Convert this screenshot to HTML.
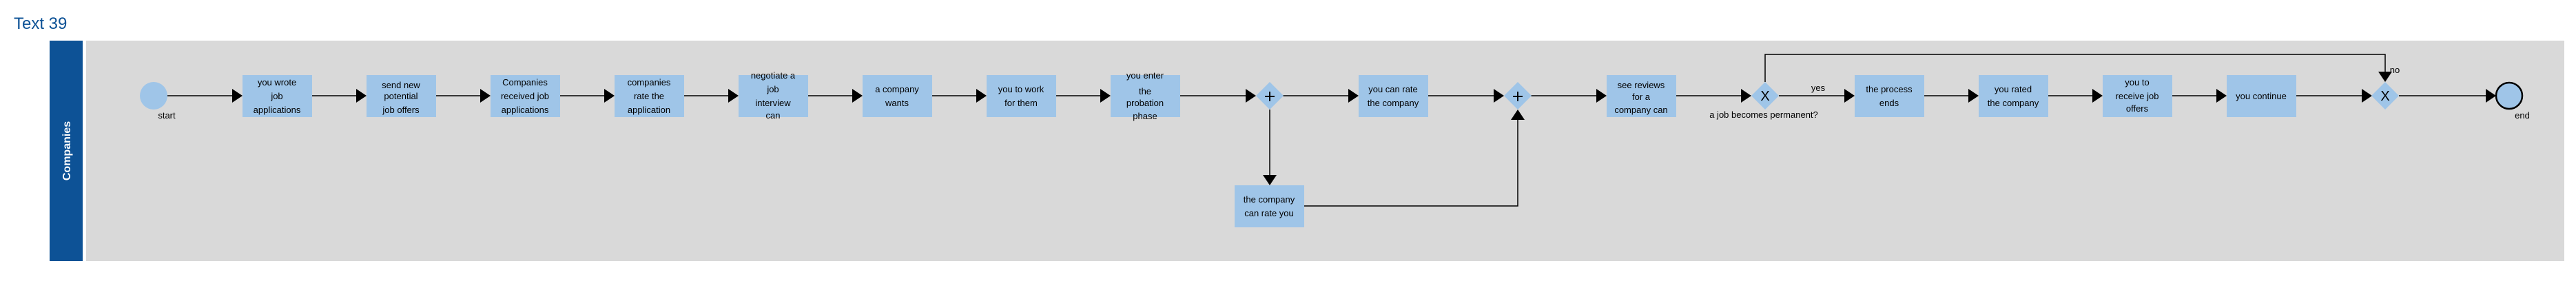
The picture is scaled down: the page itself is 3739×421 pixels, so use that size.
<!DOCTYPE html>
<html><head><meta charset="utf-8"><style>
html,body{margin:0;padding:0;background:#fff;width:3739px;height:421px;overflow:hidden}
svg{display:block}
text{font-family:"Liberation Sans",sans-serif;font-size:13px;fill:#000}
</style></head><body>
<svg width="3739" height="421" viewBox="0 0 3739 421" xmlns="http://www.w3.org/2000/svg">
<text x="20" y="42" style="font-size:24px;fill:#0d5296">Text 39</text>
<rect x="72" y="59" width="48" height="320" fill="#0d5296"/>
<rect x="125" y="59" width="3597" height="320" fill="#d9d9d9"/>
<text transform="translate(102,219) rotate(-90)" text-anchor="middle" style="font-size:16px;font-weight:bold;fill:#fff">Companies</text>

<g stroke="#000" stroke-width="1.5" fill="none">
<line x1="243" y1="139" x2="340" y2="139"/>
<line x1="453" y1="139" x2="520" y2="139"/>
<line x1="633" y1="139" x2="700" y2="139"/>
<line x1="813" y1="139" x2="880" y2="139"/>
<line x1="993" y1="139" x2="1060" y2="139"/>
<line x1="1172" y1="139" x2="1240" y2="139"/>
<line x1="1353" y1="139" x2="1420" y2="139"/>
<line x1="1533" y1="139" x2="1600" y2="139"/>
<line x1="1713" y1="139" x2="1810" y2="139"/>
<line x1="1862" y1="139" x2="1960" y2="139"/>
<line x1="2073" y1="139" x2="2170" y2="139"/>
<line x1="2222" y1="139" x2="2320" y2="139"/>
<line x1="2433" y1="139" x2="2530" y2="139"/>
<line x1="2582" y1="139" x2="2680" y2="139"/>
<line x1="2793" y1="139" x2="2860" y2="139"/>
<line x1="2973" y1="139" x2="3040" y2="139"/>
<line x1="3153" y1="139" x2="3220" y2="139"/>
<line x1="3333" y1="139" x2="3430" y2="139"/>
<line x1="3482" y1="139" x2="3610" y2="139"/>
<polyline points="1843,159 1843,258"/>
<polyline points="1893,299 2203,299 2203,170"/>
<polyline points="2562,119 2562,79 3462,79 3462,108"/>
</g>
<g fill="#000">
<polygon points="337,129 352,139 337,149"/>
<polygon points="517,129 532,139 517,149"/>
<polygon points="697,129 712,139 697,149"/>
<polygon points="877,129 892,139 877,149"/>
<polygon points="1057,129 1072,139 1057,149"/>
<polygon points="1237,129 1252,139 1237,149"/>
<polygon points="1417,129 1432,139 1417,149"/>
<polygon points="1597,129 1612,139 1597,149"/>
<polygon points="1808,129 1823,139 1808,149"/>
<polygon points="1957,129 1972,139 1957,149"/>
<polygon points="2168,129 2183,139 2168,149"/>
<polygon points="2317,129 2332,139 2317,149"/>
<polygon points="2527,129 2542,139 2527,149"/>
<polygon points="2677,129 2692,139 2677,149"/>
<polygon points="2857,129 2872,139 2857,149"/>
<polygon points="3037,129 3052,139 3037,149"/>
<polygon points="3217,129 3232,139 3217,149"/>
<polygon points="3428,129 3443,139 3428,149"/>
<polygon points="3608,129 3623,139 3608,149"/>
<polygon points="1833,254 1843,269 1853,254"/>
<polygon points="2193,174 2203,159 2213,174"/>
<polygon points="3452,104 3462,119 3472,104"/>
</g>

<circle cx="223" cy="139" r="20" fill="#9fc5e8"/>
<text x="242" y="172" text-anchor="middle">start</text>
<circle cx="3642" cy="139" r="19" fill="#9fc5e8" stroke="#000" stroke-width="2.5"/>
<text x="3661" y="172" text-anchor="middle">end</text>

<g fill="#9fc5e8">
<rect x="352" y="109" width="101" height="61"/>
<rect x="532" y="109" width="101" height="61"/>
<rect x="712" y="109" width="101" height="61"/>
<rect x="892" y="109" width="101" height="61"/>
<rect x="1072" y="109" width="101" height="61"/>
<rect x="1252" y="109" width="101" height="61"/>
<rect x="1432" y="109" width="101" height="61"/>
<rect x="1612" y="109" width="101" height="61"/>
<rect x="1972" y="109" width="101" height="61"/>
<rect x="2332" y="109" width="101" height="61"/>
<rect x="2692" y="109" width="101" height="61"/>
<rect x="2872" y="109" width="101" height="61"/>
<rect x="3052" y="109" width="101" height="61"/>
<rect x="3232" y="109" width="101" height="61"/>
<rect x="1792" y="269" width="101" height="61"/>
<polygon points="1843,119 1863,139 1843,159 1823,139"/>
<polygon points="2203,119 2223,139 2203,159 2183,139"/>
<polygon points="2562,119 2582,139 2562,159 2542,139"/>
<polygon points="3462,119 3482,139 3462,159 3442,139"/>
</g>
<g stroke="#000" stroke-width="2">
<line x1="1836" y1="140" x2="1850" y2="140"/><line x1="1843" y1="133" x2="1843" y2="147"/>
<line x1="2196" y1="140" x2="2210" y2="140"/><line x1="2203" y1="133" x2="2203" y2="147"/>
</g>
<g text-anchor="middle">
<text x="2562" y="146" style="font-size:20px">X</text>
<text x="3462" y="146" style="font-size:20px">X</text>
<text x="2560" y="171">a job becomes permanent?</text>
<text x="2639" y="132">yes</text>
<text x="3476" y="106">no</text>

<text x="402" y="124">you wrote</text><text x="402" y="144">job</text><text x="402" y="164">applications</text>
<text x="582" y="128">send new</text><text x="582" y="144">potential</text><text x="582" y="164">job offers</text>
<text x="762" y="124">Companies</text><text x="762" y="144">received job</text><text x="762" y="164">applications</text>
<text x="942" y="124">companies</text><text x="942" y="144">rate the</text><text x="942" y="164">application</text>
<text x="1122" y="114">negotiate a</text><text x="1122" y="134">job</text><text x="1122" y="154">interview</text><text x="1122" y="172">can</text>
<text x="1302" y="134">a company</text><text x="1302" y="154">wants</text>
<text x="1482" y="134">you to work</text><text x="1482" y="154">for them</text>
<text x="1662" y="114">you enter</text><text x="1662" y="137">the</text><text x="1662" y="154">probation</text><text x="1662" y="173">phase</text>
<text x="2022" y="134">you can rate</text><text x="2022" y="154">the company</text>
<text x="2382" y="128">see reviews</text><text x="2382" y="145">for a</text><text x="2382" y="164">company can</text>
<text x="2742" y="134">the process</text><text x="2742" y="154">ends</text>
<text x="2922" y="134">you rated</text><text x="2922" y="154">the company</text>
<text x="3102" y="124">you to</text><text x="3102" y="144">receive job</text><text x="3102" y="162">offers</text>
<text x="3282" y="144">you continue</text>
<text x="1842" y="294">the company</text><text x="1842" y="314">can rate you</text>
</g>
</svg>
</body></html>
